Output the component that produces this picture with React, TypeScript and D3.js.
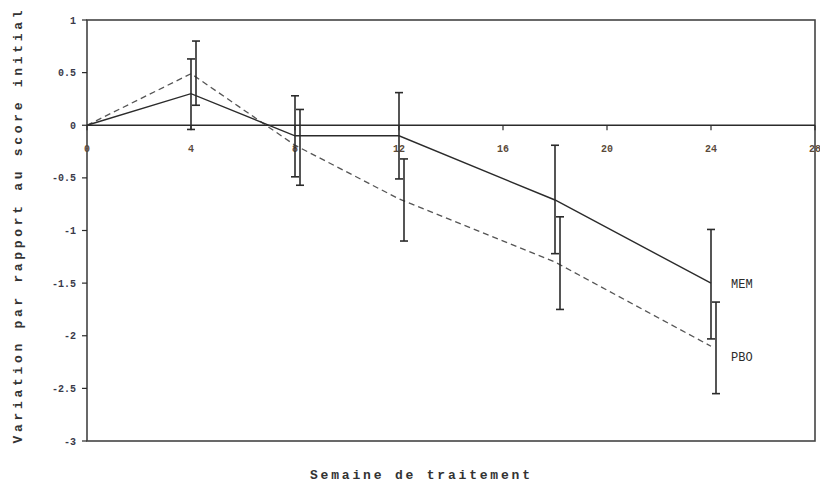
import React from "react";
import * as d3 from "d3";

// semaines de mesure
const weeks = [0, 4, 8, 12, 18, 24];
// variation moyenne par rapport au score initial
const memValues = [0, 0.3, -0.1, -0.1, -0.71, -1.5];
const pboValues = [0, 0.49, -0.19, -0.7, -1.3, -2.1];
// bornes des barres d'erreur (haut, bas)
const memErrHigh = [null, 0.63, 0.28, 0.31, -0.19, -0.99];
const memErrLow = [null, -0.04, -0.49, -0.51, -1.22, -2.03];
const pboErrHigh = [null, 0.8, 0.15, -0.32, -0.87, -1.68];
const pboErrLow = [null, 0.19, -0.57, -1.1, -1.75, -2.55];

const xTicks = [0, 4, 8, 12, 16, 20, 24, 28];
const yTicks = [1, 0.5, 0, -0.5, -1, -1.5, -2, -2.5, -3];

const W = 820;
const H = 489;
const left = 87;
const right = 815;
const top = 20;
const bottom = 441;

export default function App() {
  const x = d3.scaleLinear().domain([0, 28]).range([left, right]);
  const y = d3.scaleLinear().domain([-3, 1]).range([bottom, top]);
  const line = d3
    .line<number>()
    .x((_, i) => x(weeks[i]))
    .y((d) => y(d));

  const mono = "'Liberation Mono', 'DejaVu Sans Mono', monospace";
  const ink = "#2b2b2b";
  const cap = 4;

  const errBars = (hi, lo, dx, key) =>
    weeks.map((w, i) => {
      if (hi[i] === null) return null;
      const cx = x(w) + dx;
      return (
        <g key={key + i} stroke={ink} strokeWidth={1.6}>
          <line x1={cx} x2={cx} y1={y(hi[i])} y2={y(lo[i])} />
          <line x1={cx - cap} x2={cx + cap} y1={y(hi[i])} y2={y(hi[i])} />
          <line x1={cx - cap} x2={cx + cap} y1={y(lo[i])} y2={y(lo[i])} />
        </g>
      );
    });

  return (
    <svg width={W} height={H} style={{ position: "absolute", left: 0, top: 0, background: "#fff" }}>
      {/* cadre */}
      <rect x={left} y={top} width={right - left} height={bottom - top} fill="none" stroke="#444" strokeWidth={1.6} />
      {/* axe des x sur zero */}
      <line x1={left} x2={right} y1={y(0)} y2={y(0)} stroke={ink} strokeWidth={1.6} />
      {xTicks.map((t) => (
        <g key={"xt" + t}>
          <line x1={x(t)} x2={x(t)} y1={y(0)} y2={y(0) + 5} stroke={ink} strokeWidth={1.2} />
          <text x={x(t)} y={y(0) + 27} textAnchor="middle" fontFamily={mono} fontWeight="bold" fontSize={10} fill="#5a4a3a">
            {t}
          </text>
        </g>
      ))}
      {yTicks.map((t) => (
        <g key={"yt" + t}>
          <line x1={left - 5} x2={left} y1={y(t)} y2={y(t)} stroke={ink} strokeWidth={1.2} />
          <text x={left - 11} y={y(t) + 3.5} textAnchor="end" fontFamily={mono} fontWeight="bold" fontSize={10} fill="#3a3a4a">
            {t}
          </text>
        </g>
      ))}

      {/* series */}
      <path d={line(pboValues) || ""} fill="none" stroke="#555" strokeWidth={1.3} strokeDasharray="6,4" />
      <path d={line(memValues) || ""} fill="none" stroke={ink} strokeWidth={1.4} />
      {errBars(memErrHigh, memErrLow, 0, "m")}
      {errBars(pboErrHigh, pboErrLow, 5, "p")}

      <text x={x(24) + 20} y={y(-1.5) + 5} fontFamily={mono} fontSize={12} fill={ink}>
        MEM
      </text>
      <text x={x(24) + 20} y={y(-2.1) + 15} fontFamily={mono} fontSize={12} fill={ink}>
        PBO
      </text>

      {/* titres */}
      <text x={420} y={479} textAnchor="middle" fontFamily={mono} fontWeight="bold" fontSize={13} fill="#333" textLength={220} lengthAdjust="spacing">
        Semaine de traitement
      </text>
      <text
        transform={`translate(22, 227) rotate(-90)`}
        textAnchor="middle"
        fontFamily={mono}
        fontWeight="bold"
        fontSize={13}
        fill="#333"
        textLength={433}
        lengthAdjust="spacing"
      >
        Variation par rapport au score initial
      </text>
    </svg>
  );
}
